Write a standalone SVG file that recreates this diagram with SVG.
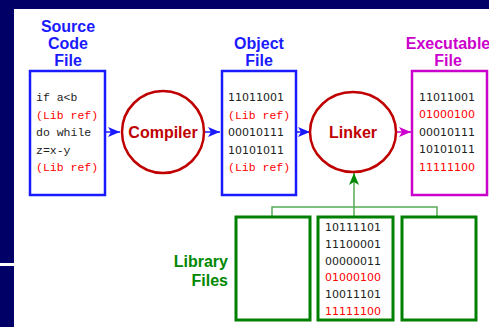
<svg xmlns="http://www.w3.org/2000/svg" width="489" height="327" viewBox="0 0 489 327">
<style>
.hd{font-family:"Liberation Sans",Arial,sans-serif;font-weight:bold;font-size:16px;text-anchor:middle}
.blue{fill:#1a1aff}
.mag{fill:#cc00cc}
.grn{fill:#008800}
.proc{font-family:"Liberation Sans",Arial,sans-serif;font-weight:bold;font-size:16px;text-anchor:middle;fill:#c00000}
.code{font-family:"Liberation Mono","Courier New",monospace;font-size:11.5px;fill:#222}
.bin{font-family:"DejaVu Sans",Verdana,sans-serif;font-size:11px;fill:#222}
.red{fill:#ff0000}
.box{fill:#fff;stroke-width:2.5}
.circ{fill:#fff;stroke:#c00000;stroke-width:2.5}
.lib{fill:#fff;stroke:#008000;stroke-width:3}
</style>
<defs>
<marker id="ab" markerUnits="userSpaceOnUse" markerWidth="12" markerHeight="10" refX="12" refY="5" orient="auto"><path d="M0,0 L12,5 L0,10 L3,5 z" fill="#1a1aff"/></marker>
<marker id="am" markerUnits="userSpaceOnUse" markerWidth="12" markerHeight="10" refX="12" refY="5" orient="auto"><path d="M0,0 L12,5 L0,10 L3,5 z" fill="#cc00cc"/></marker>
<marker id="ag" markerUnits="userSpaceOnUse" markerWidth="12" markerHeight="10" refX="12" refY="5" orient="auto"><path d="M0,0 L12,5 L0,10 L3,5 z" fill="#008800"/></marker>
</defs>
<rect width="489" height="327" fill="#000066"/>
<rect x="14" y="9" width="475" height="318" fill="#fff"/>
<rect x="0" y="263" width="14" height="3" fill="#fff"/>

<g id="connectors">
<line x1="105" y1="132" x2="120" y2="132" stroke="#1a1aff" stroke-width="1.5" marker-end="url(#ab)"/>
<line x1="204" y1="132" x2="220" y2="132" stroke="#1a1aff" stroke-width="1.5" marker-end="url(#ab)"/>
<line x1="296" y1="132" x2="310" y2="132" stroke="#1a1aff" stroke-width="1.5" marker-end="url(#ab)"/>
<line x1="396" y1="132" x2="411" y2="132" stroke="#cc00cc" stroke-width="1.5" marker-end="url(#am)"/>
<polyline points="272,216 272,207 437,207 437,216" fill="none" stroke="#55aa55" stroke-width="1.5"/>
<line x1="354" y1="216" x2="354" y2="207" stroke="#55aa55" stroke-width="1.5"/>
<line x1="354" y1="207" x2="354" y2="173" stroke="#55aa55" stroke-width="1.5" marker-end="url(#ag)"/>
</g>

<g id="source">
<text class="hd blue" x="68" y="32">Source</text>
<text class="hd blue" x="68" y="49">Code</text>
<text class="hd blue" x="68" y="66">File</text>
<rect class="box" x="30" y="71" width="75" height="124" stroke="#1a1aff"/>
<text class="code" x="36" y="101">if a&lt;b</text>
<text class="code red" x="36" y="119">(Lib ref)</text>
<text class="code" x="36" y="136">do while</text>
<text class="code" x="36" y="154">z=x-y</text>
<text class="code red" x="36" y="171">(Lib ref)</text>
</g>

<g id="compiler">
<circle class="circ" cx="163" cy="132" r="41"/>
<text class="proc" x="163" y="138">Compiler</text>
</g>

<g id="object">
<text class="hd blue" x="259" y="49">Object</text>
<text class="hd blue" x="259" y="66">File</text>
<rect class="box" x="222" y="71" width="74" height="124" stroke="#1a1aff"/>
<text class="bin" x="228" y="101">11011001</text>
<text class="code red" x="228" y="119">(Lib ref)</text>
<text class="bin" x="228" y="136">00010111</text>
<text class="bin" x="228" y="154">10101011</text>
<text class="code red" x="228" y="171">(Lib ref)</text>
</g>

<g id="linker">
<ellipse class="circ" cx="353" cy="132" rx="43" ry="40"/>
<text class="proc" x="353" y="138">Linker</text>
</g>

<g id="executable">
<text class="hd mag" x="448" y="49">Executable</text>
<text class="hd mag" x="448" y="66">File</text>
<rect class="box" x="412" y="71" width="75" height="124" stroke="#cc00cc"/>
<text class="bin" x="419" y="101">11011001</text>
<text class="bin red" x="419" y="118">01000100</text>
<text class="bin" x="419" y="136">00010111</text>
<text class="bin" x="419" y="153">10101011</text>
<text class="bin red" x="419" y="171">11111100</text>
</g>

<g id="library">
<text class="hd grn" x="228" y="267" text-anchor="end" style="text-anchor:end">Library</text>
<text class="hd grn" x="228" y="286" style="text-anchor:end">Files</text>
<rect class="lib" x="236" y="217" width="74" height="103"/>
<rect class="lib" x="318" y="217" width="75" height="103"/>
<rect class="lib" x="402" y="217" width="74" height="103"/>
<text class="bin" x="325" y="231">10111101</text>
<text class="bin" x="325" y="248">11100001</text>
<text class="bin" x="325" y="265">00000011</text>
<text class="bin red" x="325" y="281">01000100</text>
<text class="bin" x="325" y="298">10011101</text>
<text class="bin red" x="325" y="315">11111100</text>
</g>
</svg>
